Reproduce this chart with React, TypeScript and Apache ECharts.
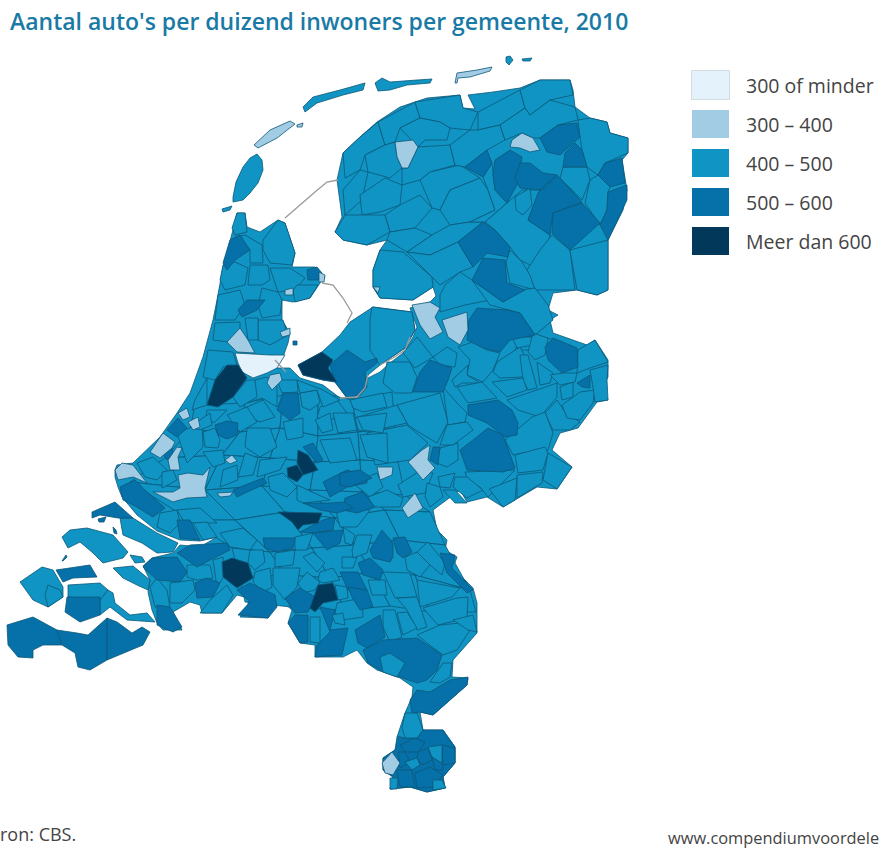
import React, { useEffect, useRef } from "react";
import * as echarts from "echarts";

const titleText = "Aantal auto's per duizend inwoners per gemeente, 2010";
const sourceText = "ron: CBS.";
const siteText = "www.compendiumvoordele";
const legendLabels = ["300 of minder", "300 – 400", "400 – 500", "500 – 600", "Meer dan 600"];
const legendColors = ["#e3f2fb", "#a2cbe4", "#0f94c3", "#0670a8", "#02395a"];
// Estimated value per class (only the class can be read from the picture)
const classValues = [280, 350, 450, 550, 650];

// Traced outlines, one list per class, drawn in order
const landOutlines = [
  "337,180 343,153 360,137 377,122 400,107 427,98 460,95 463,108 475,109 468,95 493,92 520,88 540,80 570,80 573,90 575,107 590,118 607,122 610,133 628,138 628,153 622,160 627,190 623,210 608,240 608,290 597,295 577,290 553,293 548,310 558,315 550,320 553,333 587,345 595,340 608,360 608,377 603,387 608,400 597,402 578,428 560,433 552,450 572,467 557,489 537,487 515,500 503,507 487,497 467,502 460,490 433,510 437,530 447,540 445,550 457,557 453,568 473,588 477,603 477,633 453,660 452,677 468,678 467,685 450,700 433,715 420,712 423,730 443,730 455,747 455,763 443,777 445,788 427,792 410,787 390,789 393,777 383,770 383,758 395,750 402,737 397,737 405,713 412,697 413,687 400,678 377,670 367,663 357,650 343,657 315,657 315,645 300,643 288,623 292,610 283,602 277,603 268,618 240,617 248,605 248,598 237,595 222,613 202,613 200,605 190,602 173,612 182,630 163,630 157,623 152,610 148,592 150,580 143,566 152,558 173,553 180,545 200,547 217,537 200,541 180,540 157,531 137,515 122,497 118,487 115,477 115,470 117,465 133,463 160,437 177,413 190,393 203,357 213,320 217,300 223,267 233,230 237,213 245,213 247,227 260,232 278,220 285,223 295,253 292,267 315,267 325,277 320,283 310,298 293,302 282,300 282,320 290,333 288,343 283,357 275,368 290,368 300,378 323,385 340,398 357,398 365,390 368,378 380,372 390,363 403,353 413,337 417,327 410,308 430,302 436,296 433,287 413,300 380,298 373,287 373,270 380,250 387,240 367,245 343,240 335,232 342,217",
  "298,365 322,352 340,335 350,322 373,307 412,312 415,330 405,348 380,365 368,375 365,385 360,395 347,398 335,382 323,380 303,375",
  "372,307 412,312 415,330 405,348 380,365 370,350 370,320",
  "233,197 236,182 243,167 250,158 257,154 262,160 263,170 258,183 250,193 243,200 233,202",
  "222,209 232,206 230,210 223,212",
  "303,107 313,97 340,90 365,83 363,90 343,95 317,103 305,112",
  "375,83 382,78 390,82 417,80 432,79 430,83 407,85 390,90 378,91",
  "506,57 510,56 513,60 509,65 506,62",
  "522,59 532,58 530,61 523,61",
  "62,537 70,530 87,528 113,535 128,552 123,558 103,563 93,553 80,542 68,548",
  "113,568 133,566 150,580 148,590 137,585 123,578",
  "130,555 142,557 145,562 135,563",
  "20,582 42,567 53,570 63,587 63,597 48,607 33,600",
  "48,585 60,590 63,597 48,607 45,595",
  "68,585 100,583 108,590 100,600 68,597",
  "108,590 113,593 115,603 130,615 147,613 155,622 127,620 110,607 100,615 100,600",
  "120,518 133,518 157,533 178,543 173,552 157,553 142,543 123,535",
  // coarser municipalities of the centre and south, under the smaller ones
  "195,405 245,403 240,432 190,430",
  "245,403 283,395 280,428 240,432",
  "283,395 318,392 318,436 280,428",
  "318,392 352,400 358,432 318,436",
  "352,400 392,392 395,428 358,432",
  "190,430 240,432 222,455 165,458",
  "240,432 280,428 270,458 222,455",
  "280,428 318,436 315,462 270,458",
  "318,436 358,432 360,460 315,462",
  "358,432 395,428 398,462 360,460",
  "165,458 222,455 205,490 130,482",
  "222,455 270,458 262,486 205,490",
  "270,458 315,462 310,490 262,486",
  "315,462 360,460 362,492 310,490",
  "360,460 398,462 405,495 362,492",
  "130,482 205,490 235,520 190,520",
  "205,490 262,486 285,512 235,520",
  "262,486 310,490 335,518 285,512",
  "310,490 362,492 385,510 335,518",
  "362,492 405,495 430,512 385,510",
  "190,520 235,520 270,552 232,548",
  "235,520 285,512 312,548 270,552",
  "285,512 335,518 355,545 312,548",
  "335,518 385,510 400,540 355,545",
  "385,510 430,512 445,545 400,540",
  "232,548 270,552 285,575 240,578",
  "270,552 312,548 330,578 285,575",
  "312,548 355,545 372,572 330,578",
  "355,545 400,540 415,575 372,572",
  "400,540 445,545 470,590 415,575",
  "240,578 285,575 300,608 245,602",
  "285,575 330,578 345,610 300,608",
  "330,578 372,572 390,606 345,610",
  "372,572 415,575 430,612 390,606",
  "415,575 470,590 476,612 430,612",
];

const midCells = [
  "343,153 360,137 378,122 385,145 365,155 360,170 345,178",
  "378,122 415,102 420,118 400,128 395,142 385,145",
  "415,102 460,95 463,108 478,112 470,130 450,128 440,122 420,118",
  "420,118 440,122 450,128 447,140 425,140 418,147 400,128",
  "365,155 385,145 395,142 397,157 402,168 390,178 368,172",
  "343,190 360,170 368,172 362,200 345,215",
  "360,195 385,178 402,185 400,205 380,212 362,215",
  "402,168 408,168 418,147 450,145 455,165 430,172 420,180 402,185",
  "420,180 430,172 460,165 480,178 450,190 440,210 432,208",
  "385,215 400,205 420,195 432,208 415,228 390,232",
  "345,215 362,215 385,215 390,232 367,245 343,240 335,232",
  "390,232 415,228 432,235 407,252 387,240",
  "440,210 450,190 480,178 488,190 495,210 470,222 450,225",
  "432,235 450,225 470,222 483,222 458,242 430,255 407,252",
  "478,112 520,90 525,108 500,125 478,130",
  "470,130 478,130 500,125 505,140 487,150 465,167 455,165 450,145",
  "520,90 540,80 570,80 573,95 550,100 530,115 525,108",
  "525,108 530,115 550,100 575,107 578,120 558,125 540,138 533,138 522,133 505,140 500,125",
  "578,120 590,118 607,122 610,133 628,138 628,153 605,163 598,175 587,167 582,150 580,137",
  "563,167 587,167 590,180 582,200 560,178",
  "590,180 598,175 610,187 608,192 607,210 600,225 585,203",
  "483,177 492,163 495,190 507,203 485,222 470,222 495,210 488,190",
  "522,190 540,190 528,220 550,235 540,270 520,260 510,247 495,230 485,222 507,203",
  "515,197 530,188 532,205 523,215 516,210",
  "552,235 570,250 575,290 535,290 527,270 540,250",
  "570,250 608,240 608,290 597,295 577,290",
  "510,250 522,262 530,275 535,290 510,283 506,262",
  "373,270 380,250 403,252 432,277 433,287 413,300 380,298 373,287",
  "407,252 430,255 458,242 473,267 460,272 440,285 432,277",
  "440,295 445,285 460,272 472,280 490,300 465,305 440,312",
  "472,280 503,302 520,290 535,288 548,305 553,320 535,335 520,313 490,305",
  "520,340 535,335 555,340 535,350 515,350",
  "397,405 440,393 448,422 437,443 420,433 408,425",
  "443,387 457,403 467,413 465,422 448,425",
  "367,433 407,425 428,443 410,460 375,465",
  "355,418 397,405 407,423 367,432 358,430",
  "387,362 410,362 417,377 412,393 395,393 383,383",
  "417,337 433,357 415,368 403,353",
  "433,357 447,347 457,353 455,367 440,365",
  "458,347 473,342 487,350 500,353 493,370 483,382 467,375 470,360",
  "452,380 468,365 467,375 480,383 462,383 455,387",
  "457,387 482,382 497,398 468,403",
  "497,362 520,347 527,360 523,377 500,378 493,372",
  "512,337 532,337 533,345 517,348",
  "520,355 528,355 537,388 528,390 523,380",
  "537,362 553,373 550,383 540,385",
  "533,333 548,338 545,355 535,360 528,352",
  "492,382 523,378 527,390 507,397",
  "507,400 537,390 557,383 557,397 540,417 518,410",
  "545,413 557,400 565,412 580,422 570,430 553,430",
  "562,405 580,392 595,390 593,403 580,420 567,418",
  "560,387 573,382 573,397 562,400",
  "590,370 608,365 607,380 608,400 595,402 593,387",
  "578,350 595,340 608,362 590,368 577,373",
  "550,375 563,373 577,373 575,382 560,385",
  "505,440 532,417 545,412 553,433 548,450 522,453 513,455",
  "515,455 545,447 548,453 543,470 518,473",
  "548,453 572,467 557,489 543,480",
  "517,475 543,472 542,483 517,498",
  "465,472 515,470 497,488 488,497 480,487 470,487",
  "455,477 467,477 483,490 467,498 453,487",
  "489,489 517,478 515,500 503,507",
  "440,448 458,443 458,460 447,467 437,463",
  "447,425 467,422 473,430 453,445 440,445",
  "398,485 418,472 433,473 425,493 403,497",
  "438,477 455,473 450,488 440,487",
  "443,490 455,490 467,503 455,503",
  "427,483 440,487 443,497 430,507 425,497",
  "353,483 377,473 383,487 370,497",
  "368,497 387,490 403,498 400,507 373,507",
  "247,407 263,400 275,417 260,422 250,417",
  "227,415 247,407 257,422 240,432",
  "207,410 227,410 215,422 205,423",
  "247,428 270,428 277,447 260,457 245,447",
  "203,432 215,428 220,440 218,448 205,447",
  "283,422 303,418 303,437 287,440",
  "300,393 317,390 320,403 310,410 302,407",
  "320,407 337,400 347,413 330,420 317,418",
  "350,400 383,393 387,407 363,412 353,408",
  "315,420 330,413 333,430 322,433",
  "333,413 353,413 357,430 338,433",
  "357,417 387,413 383,433 363,430",
  "320,440 350,438 357,460 330,463",
  "360,435 387,433 388,463 367,457",
  "260,460 287,457 280,470 257,477",
  "245,453 258,458 253,475 238,477",
  "203,452 223,450 225,463 213,467",
  "223,470 237,465 238,480 220,487",
  "268,477 283,473 297,487 287,497 270,490",
  "297,485 323,497 330,500 303,503 297,500",
  "263,240 278,220 285,223 295,253 292,265 270,263 263,250",
  "237,213 245,213 247,232 235,235 232,228",
  "235,237 245,235 262,245 263,263 250,263 250,250",
  "223,265 235,262 248,268 245,285 225,290 220,280",
  "250,265 268,265 270,280 262,285 248,285",
  "270,268 290,268 305,278 295,290 278,292",
  "262,288 278,292 282,300 280,315 262,318 258,305",
  "297,285 310,285 318,285 310,298 295,302 293,290",
  "218,295 240,290 245,305 235,320 215,320",
  "215,323 240,322 240,335 228,342 213,340",
  "258,320 283,320 288,335 270,345 258,340",
  "245,318 258,318 258,340 248,340",
  "137,463 153,457 167,470 157,480 145,477",
  "162,472 173,470 177,480 162,488",
  "177,433 202,423 203,447 187,463",
  "195,400 207,378 207,405 192,410",
  "190,427 210,413 212,425 200,430",
  "208,350 233,352 237,365 223,367 215,380 203,377",
  "255,380 267,377 277,387 277,407 262,398 247,403",
  "233,397 247,380 255,380 257,397 240,407",
  "297,380 323,390 340,400 323,407 317,390 300,393",
  "277,380 297,380 298,392 282,393",
  "220,533 243,528 257,540 250,550 230,547",
  "250,550 263,550 265,562 255,570 248,563",
  "275,553 295,550 293,565 275,567",
  "295,537 313,533 307,550 295,550",
  "303,557 313,552 325,563 317,572",
  "320,572 333,568 340,580 323,583 318,580",
  "298,583 307,572 320,582 315,590 303,593",
  "273,568 300,568 297,587 285,600 273,585",
  "255,572 270,568 272,587 263,592 253,582",
  "342,557 357,557 353,568 342,568",
  "357,535 372,535 367,553 353,558 352,550",
  "343,527 355,535 352,545 345,543",
  "335,507 370,510 357,527 340,527",
  "383,572 410,573 417,597 395,598",
  "368,580 385,580 387,595 372,595",
  "397,598 417,597 427,627 417,630 407,610",
  "417,580 460,588 452,597 420,607",
  "423,608 457,598 468,597 467,618 438,625",
  "417,635 440,625 460,623 470,630 457,650 443,655 427,643",
  "453,620 473,615 477,632 468,630",
  "405,557 417,552 430,565 420,577 407,570",
  "417,552 428,542 445,563 442,575 430,565",
  "383,610 395,610 402,637 390,642 383,627",
  "397,613 407,612 417,628 403,635",
  "337,603 362,598 363,617 343,620 335,613",
  "335,585 347,587 348,598 338,600",
  "160,513 177,510 180,523 170,533 157,527",
  "177,510 200,508 217,523 193,523 183,520",
  "193,523 207,522 217,537 203,540",
  "150,587 157,578 167,590 170,608 155,607",
  "170,583 193,580 195,590 182,603 170,603",
  "200,613 210,600 227,585 233,595 222,613",
  "187,565 210,565 213,578 197,580 187,577",
  "213,560 223,557 225,575 217,587",
];

const band500Cells = [
  "465,167 487,150 492,163 483,177",
  "495,160 510,150 522,157 518,183 507,203 495,190 493,175",
  "520,163 530,163 543,173 557,175 540,190 520,188 515,178",
  "540,138 558,125 577,123 580,137 560,155 547,152",
  "565,153 575,143 582,150 587,167 563,167",
  "598,175 605,163 622,158 625,183 610,187",
  "608,192 627,185 627,200 608,240 600,225 607,210",
  "557,175 582,202 553,213 550,235 528,220 538,193",
  "553,213 582,203 600,223 570,250 552,233",
  "458,242 483,222 495,230 510,247 508,257 487,253 473,267",
  "483,258 505,260 507,283 525,290 503,302 472,280",
  "469,320 477,308 507,310 520,313 535,335 510,340 500,352 483,348 467,340",
  "545,347 553,338 577,348 578,367 562,373 548,360",
  "577,383 590,375 590,388 582,387",
  "413,392 420,372 430,360 452,368 448,380 443,392",
  "468,405 498,400 512,410 518,423 517,435 505,437 487,423 468,415",
  "460,450 473,440 488,428 503,435 515,468 503,472 467,470",
  "430,460 433,447 440,447 438,465",
  "230,240 240,235 250,250 235,260 227,270 223,263",
  "307,270 317,267 322,273 318,280 308,280",
  "238,310 247,300 265,300 257,310 242,317",
  "330,365 347,350 365,362 377,358 377,363 365,372 367,387 360,395 347,398 335,382",
  "283,393 298,393 300,413 290,420 277,410",
  "167,430 178,418 187,428 177,437",
  "162,453 172,448 173,455 167,460",
  "215,425 227,421 238,423 237,435 227,439 218,435",
  "120,487 135,480 145,490 165,508 153,517 137,507 123,500",
  "177,520 190,520 200,540 180,538",
  "303,447 313,443 323,460 317,463",
  "323,482 347,470 367,477 367,483 347,487 330,497",
  "233,490 263,478 267,483 247,492 237,497",
  "345,498 363,492 375,507 357,513 343,510",
  "340,473 360,470 372,478 350,487 340,485",
  "303,503 330,503 345,502 353,508 337,513 320,510",
  "300,532 323,520 335,517 333,530 313,533",
  "313,533 343,530 340,543 327,550",
  "263,538 295,538 293,548 277,552 265,548",
  "237,590 250,583 275,595 277,607 268,618 238,615 250,602",
  "285,598 300,588 315,597 308,612 295,613",
  "288,623 295,615 308,615 308,642 300,643",
  "320,607 335,610 330,630 348,628 342,655 315,657 317,645 330,632",
  "358,643 355,630 380,615 385,637 367,648",
  "340,572 358,572 367,590 348,590",
  "348,587 367,590 373,607 360,610 352,597",
  "358,563 370,558 383,570 380,580 363,575",
  "370,550 382,530 393,543 393,557 390,562 373,558",
  "393,538 405,537 412,552 403,558 397,553",
  "440,553 455,555 452,568 473,590 467,593 447,573",
  "363,650 383,640 417,638 442,655 437,670 427,680 417,683 380,670 368,663",
  "410,700 417,690 430,692 450,680 468,677 467,685 450,700 433,715 420,712 412,713",
  "143,567 152,558 177,557 187,572 180,582 157,580",
  "177,553 190,545 227,543 230,550 210,560 197,567 183,557",
  "195,583 207,578 220,583 213,597 197,598",
  "157,605 170,607 182,627 173,632 157,625",
  "7,625 33,617 57,630 62,645 43,645 33,650 33,658 18,657 8,645",
  "57,630 77,633 88,635 107,618 107,660 90,670 78,667 75,653 62,645",
  "107,618 117,622 132,633 142,627 150,632 143,645 107,660",
  "56,570 90,565 97,577 73,578 63,582",
  "67,597 100,597 100,615 80,622 65,612",
  "92,512 115,502 133,518 120,518 118,518 100,515 92,518",
  "98,519 106,517 104,522 99,522",
  "113,527 116,530 117,534 114,533",
  "62,561 66,555 67,557 63,561",
  "293,341 297,341 297,345 293,345",
  "397,737 405,738 417,738 423,730 443,730 455,747 455,763 443,777 445,788 427,792 410,787 390,789 393,777 383,770 383,758 395,750",
  "400,745 415,738 425,742 418,752 405,752",
  "398,752 405,752 410,762 400,768",
  "418,752 428,748 432,760 422,765 417,758",
  "442,745 455,748 455,763 443,765",
  "397,770 412,770 415,787 400,787",
  "415,773 430,767 443,775 433,787 417,788",
  "432,757 442,763 443,770 435,770",
];

const midOnTopCells = [
  "380,657 390,653 405,663 397,677 383,672",
  "430,682 443,663 452,663 450,677 440,683",
  "405,713 417,713 423,730 417,738 405,738 402,728",
  "428,747 442,745 442,763 432,757",
  "405,762 417,758 420,765 412,770",
  "433,780 442,780 446,788 433,790",
  "390,778 398,778 397,789 390,789",
  "310,617 320,617 320,643 310,642",
  "332,615 343,613 345,625 335,623",
];

const band300Cells = [
  "254,145 270,130 290,121 295,124 277,138 258,148",
  "297,125 303,123 302,127 297,127",
  "455,83 457,73 477,70 492,67 490,71 470,77 458,78 457,83",
  "395,142 413,140 418,147 408,168 402,168 397,157",
  "512,140 522,133 533,138 540,150 530,152 520,148 510,147",
  "412,305 430,302 440,308 435,317 443,332 430,339 420,325",
  "442,320 467,312 468,330 460,345 448,337",
  "373,287 380,287 378,293",
  "319,272 325,275 324,282 319,282",
  "285,290 293,288 293,295 285,295",
  "280,332 290,328 290,335 282,337",
  "227,342 240,328 248,340 255,353 237,352",
  "270,375 280,373 282,380 272,390 267,383",
  "178,413 187,408 190,417 183,420",
  "188,422 198,417 200,427 193,430",
  "150,452 163,433 175,442 172,448 160,458",
  "168,460 177,447 182,448 178,457 180,470 170,470",
  "115,470 122,463 133,465 147,483 133,477 118,480",
  "178,475 188,473 203,475 210,467 205,488 207,497 187,498 173,502 153,492 173,492 180,488",
  "217,493 233,492 230,496 220,497",
  "225,460 232,455 237,461 230,464",
  "408,462 422,450 430,445 428,460 435,468 423,480 415,470",
  "377,467 393,467 392,475 380,480",
  "402,508 415,493 423,508 408,518",
  "382,763 392,752 400,763 393,775 385,773",
];

const band0Cells = ["235,353 270,355 285,355 277,368 267,373 253,378 242,372 238,363"];

const band600Cells = [
  "207,405 215,380 227,365 238,365 247,378 233,397 218,407",
  "298,365 322,352 333,360 328,368 337,382 323,380 303,375",
  "298,450 308,455 318,470 303,475 297,463",
  "287,468 297,465 303,475 297,482 288,477",
  "278,512 322,513 318,523 303,525 298,530 292,522",
  "222,562 232,558 248,563 253,578 237,588 223,577",
  "310,608 318,585 333,583 338,600 323,603 315,612",
];

const dijkLines = [
  "338,180 327,182 315,192 285,218",
  "322,283 333,285 343,298 352,313 347,323",
  "340,398 357,397 365,388 368,375",
  "410,337 405,350 393,358 380,365",
  "275,360 286,372",
];

const parsePts = (s: string) => s.split(" ").map((p) => p.split(",").map(Number));

const layers: [string[], number][] = [
  [landOutlines, classValues[2]],
  [midCells, classValues[2]],
  [band500Cells, classValues[3]],
  [midOnTopCells, classValues[2]],
  [band300Cells, classValues[1]],
  [band0Cells, classValues[0]],
  [band600Cells, classValues[4]],
];

const features: any[] = [];
const seriesData: { name: string; value: number }[] = [];
layers.forEach(([list, value], li) => {
  list.forEach((s, i) => {
    const name = "gemeente-" + li + "-" + i;
    const ring = parsePts(s);
    ring.push(ring[0]);
    features.push({ type: "Feature", properties: { name }, geometry: { type: "Polygon", coordinates: [ring] } });
    seriesData.push({ name, value });
  });
});

export default function App() {
  const ref = useRef<HTMLDivElement>(null);
  useEffect(() => {
    document.body.style.margin = "0";
    document.body.style.background = "#fff";
    echarts.registerMap("nl", { type: "FeatureCollection", features } as any);
    const chart = echarts.init(ref.current!, null, { renderer: "svg" });
    const identity = { project: (p: number[]) => p, unproject: (p: number[]) => p };
    chart.setOption({
      animation: false,
      backgroundColor: "#ffffff",
      title: {
        text: titleText,
        left: 5,
        top: 4,
        textStyle: { fontFamily: "Open Sans", fontWeight: 600, fontSize: 23, color: "#1a7aa6" },
      },
      geo: {
        map: "nl",
        projection: identity,
        boundingCoords: [[0, 0], [879, 848]],
        left: 0,
        top: 0,
        width: 879,
        height: 848,
        aspectScale: 1,
        roam: false,
        silent: true,
        label: { show: false },
        itemStyle: { areaColor: legendColors[2], borderColor: "#0d5878", borderWidth: 0.8 },
        emphasis: { disabled: true },
        select: { disabled: true },
      },
      visualMap: {
        type: "piecewise",
        seriesIndex: 0,
        orient: "vertical",
        inverse: true,
        align: "left",
        padding: 0,
        left: 692,
        top: 71,
        itemWidth: 37,
        itemHeight: 28,
        itemGap: 11,
        textGap: 17,
        itemSymbol: "rect",
        hoverLink: false,
        selectedMode: false,
        textStyle: { fontFamily: "Open Sans", fontSize: 19.5, color: "#444444" },
        pieces: [
          { max: 300, label: legendLabels[0], color: legendColors[0] },
          { min: 300, max: 400, label: legendLabels[1], color: legendColors[1] },
          { min: 400, max: 500, label: legendLabels[2], color: legendColors[2] },
          { min: 500, max: 600, label: legendLabels[3], color: legendColors[3] },
          { min: 600, label: legendLabels[4], color: legendColors[4] },
        ],
      },
      series: [
        {
          type: "map",
          geoIndex: 0,
          silent: true,
          data: seriesData,
        },
        {
          type: "lines",
          coordinateSystem: "geo",
          polyline: true,
          silent: true,
          lineStyle: { color: "#9a9a9a", width: 1.3, opacity: 1 },
          data: dijkLines.map((s) => ({ coords: parsePts(s) })),
        },
      ],
      graphic: [
        { type: "rect", silent: true, shape: { x: 692, y: 71, width: 37, height: 28 }, style: { fill: "none", stroke: "#c4cfd6", lineWidth: 1.5 } },
        { type: "text", silent: true, x: 0, y: 825, style: { text: sourceText, font: '18px "Open Sans"', fill: "#444444" } },
        { type: "text", silent: true, x: 668, y: 829, style: { text: siteText, font: '16.4px "Open Sans"', fill: "#444444" } },
      ],
    });
    return () => chart.dispose();
  }, []);
  return <div ref={ref} style={{ position: "absolute", left: 0, top: 0, width: 879, height: 848 }} />;
}
